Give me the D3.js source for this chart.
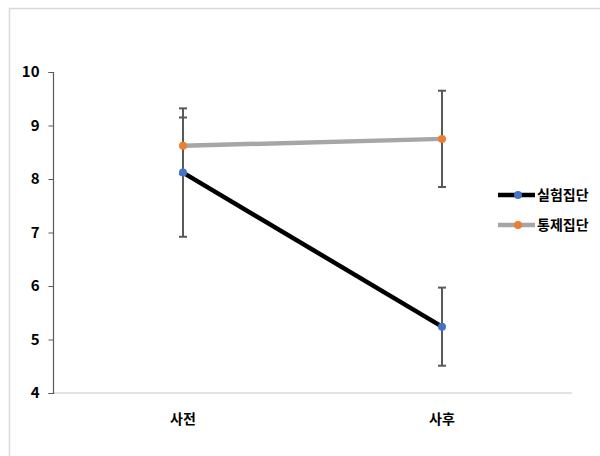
<!DOCTYPE html>
<html><head><meta charset="utf-8">
<script src="https://cdn.jsdelivr.net/npm/d3@7"></script>
<style>body{margin:0;background:#fff;}svg{display:block;}</style>
</head><body>
<svg id="c" width="600" height="456"></svg>
<script>
const categories = ["사전", "사후"];
const seriesNames = ["실험집단", "통제집단"];
const experimental = [8.12, 5.24];
const experimentalErr = [1.2, 0.73];
const control = [8.62, 8.75];
const controlErr = [0.53, 0.9];
const yTicks = [4, 5, 6, 7, 8, 9, 10];

const svg = d3.select("#c");
const font = "'Malgun Gothic','Noto Sans CJK KR',sans-serif";

// outer frame
svg.append("rect").attr("x", 9.5).attr("y", 8.5).attr("width", 700).attr("height", 600)
  .attr("fill", "none").attr("stroke", "#d9d9d9").attr("stroke-width", 1.5);

const x = d3.scaleBand().domain(categories).range([53.5, 571.5]);
const y = d3.scaleLinear().domain([4, 10]).range([393, 72]);
const cx = d => x(d) + x.bandwidth() / 2;

// x axis line
svg.append("line").attr("x1", 53).attr("x2", 572).attr("y1", 393).attr("y2", 393)
  .attr("stroke", "#d9d9d9").attr("stroke-width", 1.5);

// y axis
const yAxis = d3.axisLeft(y).tickValues(yTicks).tickFormat(d3.format("d")).tickSize(5).tickPadding(9);
const ga = svg.append("g").attr("transform", "translate(53.5,0)").call(yAxis);
ga.select(".domain").attr("stroke", "#595959").attr("stroke-width", 1.2).attr("d", "M-5,393.5H0V72.5H-5");
ga.selectAll(".tick line").attr("stroke", "#595959");
ga.selectAll(".tick text").attr("font-family", font).attr("font-size", 15).attr("font-weight", "bold").attr("fill", "#000");

// x labels
svg.selectAll(".xl").data(categories).enter().append("text")
  .attr("x", d => cx(d)).attr("y", 424).attr("text-anchor", "middle")
  .attr("font-family", font).attr("font-size", 14).attr("font-weight", "bold").text(d => d);

const series = [
  {name: seriesNames[0], vals: experimental, err: experimentalErr, line: "#000000", marker: "#4472C4"},
  {name: seriesNames[1], vals: control, err: controlErr, line: "#a6a6a6", marker: "#ED7D31"}
];

const lineGen = d3.line().x((d, i) => cx(categories[i])).y(d => y(d));

// error bars
series.forEach(s => {
  const g = svg.append("g");
  s.vals.forEach((v, i) => {
    const px = cx(categories[i]);
    const top = y(v + s.err[i]), bot = y(v - s.err[i]);
    g.append("line").attr("x1", px).attr("x2", px).attr("y1", top).attr("y2", bot)
      .attr("stroke", "#595959").attr("stroke-width", 2);
    [top, bot].forEach(yy => g.append("line").attr("x1", px - 4).attr("x2", px + 4).attr("y1", yy).attr("y2", yy)
      .attr("stroke", "#595959").attr("stroke-width", 2));
  });
});

// lines
[series[1], series[0]].forEach(s => {
  svg.append("path").attr("d", lineGen(s.vals)).attr("fill", "none")
    .attr("stroke", s.line).attr("stroke-width", 4.5);
});
series.forEach(s => {
  svg.selectAll(null).data(s.vals).enter().append("circle")
    .attr("cx", (d, i) => cx(categories[i])).attr("cy", d => y(d)).attr("r", 4)
    .attr("fill", s.marker);
});

// legend
series.forEach((s, i) => {
  const ly = 195 + i * 30;
  svg.append("line").attr("x1", 498).attr("x2", 535).attr("y1", ly).attr("y2", ly)
    .attr("stroke", s.line).attr("stroke-width", 4.5);
  svg.append("circle").attr("cx", 518).attr("cy", ly).attr("r", 4).attr("fill", s.marker);
  svg.append("text").attr("x", 537).attr("y", ly + 5).attr("font-family", font)
    .attr("font-size", 14).attr("font-weight", "bold").text(s.name);
});
</script>
</body></html>
